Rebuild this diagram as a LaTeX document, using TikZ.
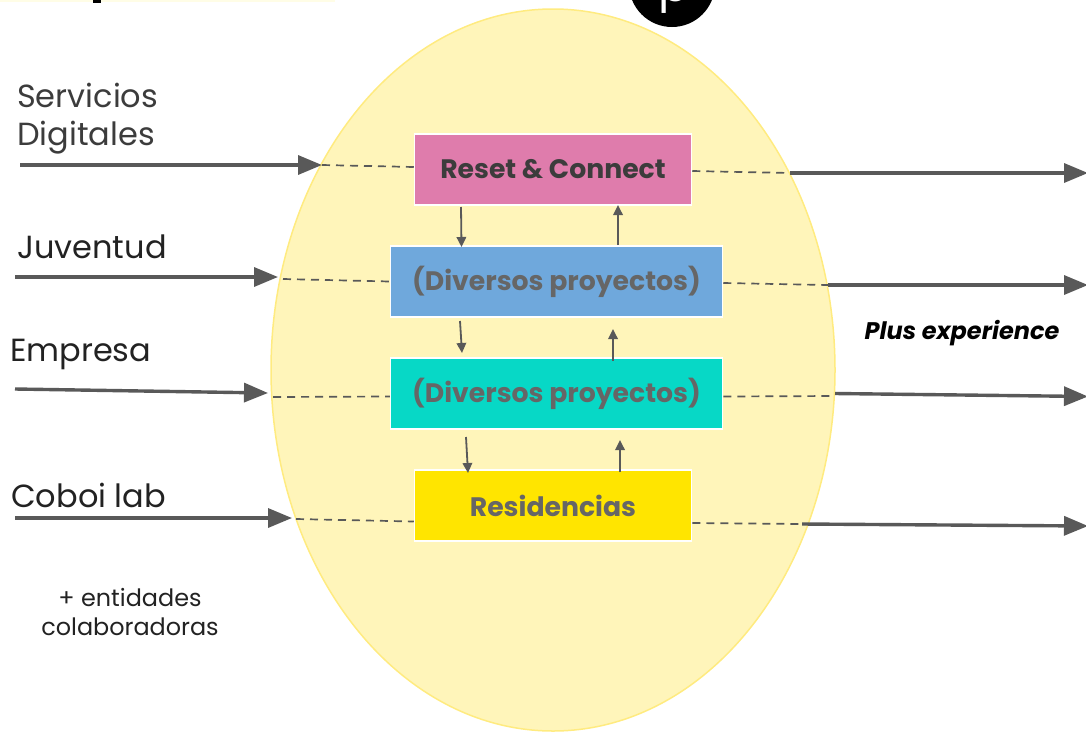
\documentclass[tikz,border=0pt]{standalone}
\usepackage{fontspec}
\setmainfont{Poppins}
\usepackage{tikz}
\usetikzlibrary{positioning,arrows.meta}
\definecolor{blobfill}{HTML}{FFF5BA}
\definecolor{blobline}{HTML}{FFEB80}
\definecolor{arrowgray}{HTML}{595959}
\definecolor{textgray}{HTML}{3C3C3C}
\definecolor{labeldark}{HTML}{222222}
\definecolor{midgray}{HTML}{666666}
\definecolor{resetpink}{HTML}{DF7CAC}
\definecolor{projblue}{HTML}{6FA8DC}
\definecolor{projteal}{HTML}{07D8C6}
\definecolor{residyellow}{HTML}{FFE500}
\definecolor{glow}{HTML}{FFFDE6}
\tikzset{
    stagebox/.style={draw=white, line width=1.5pt, minimum height=71, font=\fontsize{26.7}{32}\selectfont\bfseries},
    sidelabel/.style={anchor=base west, font=\fontsize{32}{38}\selectfont, inner sep=0pt, align=left},
    flowarrow/.style={draw=arrowgray, line width=3.4pt, -{Triangle[length=24pt,width=19pt]}},
    stagearrow/.style={draw=arrowgray, line width=1.8pt, -{Triangle[length=10pt,width=9.5pt]}},
    dashlink/.style={draw=arrowgray, line width=1.7pt, dash pattern=on 8pt off 6pt},
}
\begin{document}
\begin{tikzpicture}[x=1pt, y=-1pt]
    \useasboundingbox (0,0) rectangle (1086,731);
    \clip (0,0) rectangle (1086,731);

    % cut-off bits along the top edge
    \fill[glow] (0,0) rectangle (335,2);
    \fill[black] (93,0) rectangle (101,3);

    % the blob behind everything
    \draw[fill=blobfill, draw=blobline, line width=1.5pt] (553,370) ellipse (282 and 361);
    \node[fill=black, circle, minimum size=86, inner sep=0pt] (logo) at (672,-16) {};
    \node[anchor=base west, inner sep=0pt, text=white, font=\fontsize{46}{46}\selectfont] (logop) at (658.5,1.5) {p};

    % stages
    \node[stagebox, fill=resetpink, text=textgray, minimum width=277] (reset) at (553,169.5) {Reset \& Connect};
    \node[stagebox, fill=projblue, text=midgray, minimum width=332] (projA) at (556.5,281.5) {(Diversos proyectos)};
    \node[stagebox, fill=projteal, text=midgray, minimum width=332] (projB) at (556.5,393.5) {(Diversos proyectos)};
    \node[stagebox, fill=residyellow, text=midgray, minimum width=277] (resid) at (553,505.5) {Residencias};

    % labels on the left
    \node[sidelabel, text=textgray] (servicios) at (17,107) {Servicios};
    \node[sidelabel, text=textgray] (digitales) at (17,145) {Digitales};
    \node[sidelabel, text=labeldark] (juventud) at (17,258) {Juventud};
    \node[sidelabel, text=labeldark] (empresa) at (10,361) {Empresa};
    \node[sidelabel, text=labeldark] (coboi) at (11,507) {Coboi lab};
    \node[anchor=center, align=center, text=labeldark, font=\fontsize{23.9}{29}\selectfont] (entidades) at (130,612) {+ entidades\\colaboradoras};
    \node[anchor=center, text=black, font=\fontsize{24}{28}\selectfont\bfseries\itshape] (plus) at (962,333) {Plus experience};

    % free ends of the long arrows
    \coordinate (inA) at (20,165);
    \coordinate (inAtip) at (322,165);
    \coordinate (inB) at (15,277);
    \coordinate (inBtip) at (278,277);
    \coordinate (inC) at (15,389);
    \coordinate (inCtip) at (268,393);
    \coordinate (inD) at (15,518);
    \coordinate (inDtip) at (292,518);
    \coordinate (outA) at (790,173);
    \coordinate (outAtip) at (1088,173);
    \coordinate (outB) at (828,285);
    \coordinate (outBtip) at (1088,285);
    \coordinate (outC) at (835,393.5);
    \coordinate (outCtip) at (1088,396.5);
    \coordinate (outD) at (802,524);
    \coordinate (outDtip) at (1088,526);

    \draw[flowarrow] (inA) -- (inAtip);
    \draw[flowarrow] (inB) -- (inBtip);
    \draw[flowarrow] (inC) -- (inCtip);
    \draw[flowarrow] (inD) -- (inDtip);
    \draw[flowarrow] (outA) -- (outAtip);
    \draw[flowarrow] (outB) -- (outBtip);
    \draw[flowarrow] (outC) -- (outCtip);
    \draw[flowarrow] (outD) -- (outDtip);

    % dashed bits through the blob
    \draw[dashlink] (inAtip) -- (reset.west |- 0,167);
    \draw[dashlink] (283,279) -- (projA.west |- 0,281.5);
    \draw[dashlink] (273,397) -- (projB.west |- 0,396.5);
    \draw[dashlink] (296,519) -- (resid.west |- 0,521.5);
    \draw[dashlink] (reset.east |- 0,171) -- (outA);
    \draw[dashlink] (projA.east |- 0,283) -- (outB);
    \draw[dashlink] (projB.east |- 0,396.5) -- (835,396);
    \draw[dashlink] (resid.east |- 0,523) -- (outD);

    % up and down between the stages
    \draw[stagearrow] (461,207) -- (461.5,247);
    \draw[stagearrow] (618,245) -- (618,205);
    \draw[stagearrow] (460,321) -- (462,353);
    \draw[stagearrow] (613,361) -- (613,329);
    \draw[stagearrow] (466,437) -- (468,473);
    \draw[stagearrow] (620,472) -- (620,440);
\end{tikzpicture}
\end{document}
